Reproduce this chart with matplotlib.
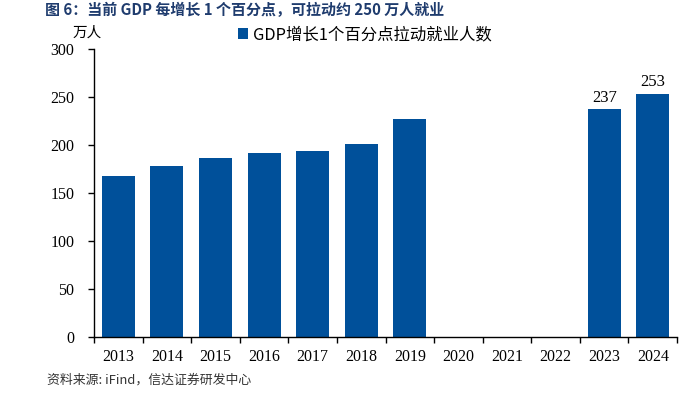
import numpy as np
import matplotlib.pyplot as plt

years = ['2013', '2014', '2015', '2016', '2017', '2018', '2019',
         '2020', '2021', '2022', '2023', '2024']
jobs = [168, 178, 186, 192, 194, 201, 227, 0, 0, 0, 237, 253]
labeled = {'2023': 237, '2024': 253}

BAR_COLOR = '#00509a'
SERIF = ['Liberation Serif', 'Noto Sans CJK SC']
CJK = ['Noto Sans CJK SC', 'DejaVu Sans']

plt.rcParams['font.family'] = SERIF

fig = plt.figure(figsize=(6.86, 3.94), dpi=100)
ax = fig.add_axes([0.1370, 0.1447, 0.8500, 0.7309])

x = np.arange(len(years))
bars = ax.bar(x, jobs, width=0.68, color=BAR_COLOR,
              label='GDP增长1个百分点拉动就业人数')

for i, yr in enumerate(years):
    if yr in labeled:
        ax.text(i, labeled[yr] + 4, str(labeled[yr]), ha='center', va='bottom',
                fontsize=12, family='Liberation Serif')

ax.set_xlim(-0.5, len(years) - 0.5)
ax.set_ylim(0, 300)
ax.set_yticks(range(0, 301, 50))
ax.set_xticks(x)
ax.set_xticklabels(years)
ax.set_xticks(np.arange(-0.5, len(years), 1), minor=True)
ax.tick_params(axis='x', which='major', length=0, pad=9, labelsize=11.5)
ax.tick_params(axis='x', which='minor', length=4, width=1, direction='out')
ax.tick_params(axis='y', length=4, width=1, direction='out', pad=10, labelsize=11.5)

for s in ['top', 'right']:
    ax.spines[s].set_visible(False)
ax.spines['left'].set_linewidth(1)
ax.spines['bottom'].set_linewidth(1)

leg = ax.legend(loc='upper left', bbox_to_anchor=(0.222, 1.13), frameon=False,
                handlelength=0.6, handleheight=0.6, handletextpad=0.3,
                prop={'family': CJK, 'size': 11.8})

fig.text(0.106, 0.918, '万人', fontsize=10.5, family=CJK, va='center')
fig.text(0.066, 0.975, '图 6：当前 GDP 每增长 1 个百分点，可拉动约 250 万人就业',
         fontsize=10.8, fontweight='bold', color='#1f3c6e', family=CJK, va='center')
fig.text(0.068, 0.035, '资料来源: iFind，信达证券研发中心',
         fontsize=9.3, style='italic', color='#333333', family=CJK, va='center')

fig.savefig('out.png', dpi=100)
